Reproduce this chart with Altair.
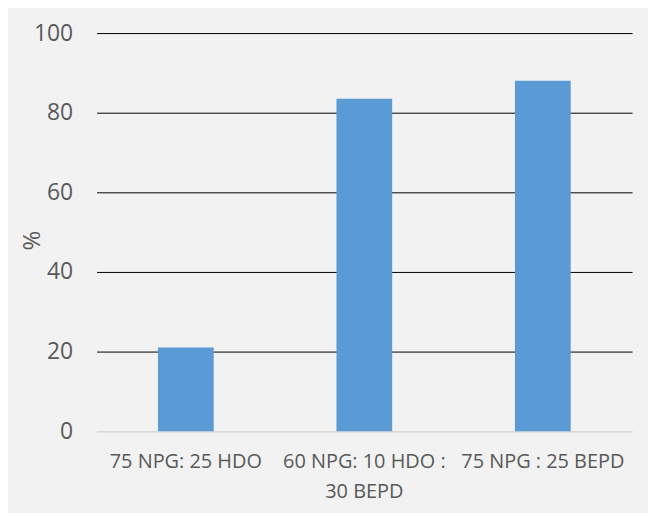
import altair as alt
import pandas as pd

categories = ["75 NPG: 25 HDO", "60 NPG: 10 HDO : 30 BEPD", "75 NPG : 25 BEPD"]
values = [21, 83.5, 88]

df = pd.DataFrame({"cat": categories, "val": values})

label_expr = ("datum.label == '60 NPG: 10 HDO : 30 BEPD' ? "
              "['60 NPG: 10 HDO :', '30 BEPD'] : datum.label")

chart = alt.Chart(df).mark_bar(size=56, color="#5b9bd5").encode(
    x=alt.X("cat:N", sort=categories, title=None,
            scale=alt.Scale(paddingInner=0, paddingOuter=0),
            axis=alt.Axis(labelAngle=0, labelExpr=label_expr, ticks=False,
                          domain=True, domainColor="#d9d9d9", domainWidth=1.5,
                          labelFont="Open Sans", labelFontSize=20,
                          labelColor="#595959", labelPadding=20,
                          labelLineHeight=31, labelBaseline="top")),
    y=alt.Y("val:Q", title="%",
            scale=alt.Scale(domain=[0, 100], nice=False),
            axis=alt.Axis(values=[0, 20, 40, 60, 80, 100], ticks=False, domain=False,
                          gridColor=alt.condition("datum.value == 0", alt.value("#d9d9d9"), alt.value("#000000")),
                          gridWidth=1,
                          labelFont="Open Sans", labelFontSize=23,
                          labelColor="#595959", labelPadding=24,
                          titleFont="Open Sans", titleFontSize=24,
                          titleFontWeight="normal", titleColor="#595959",
                          titleX=-64, titleY=208, titleAngle=-90,
                          titleAlign="center", titleBaseline="middle")),
).properties(
    width=538, height=400,
    background="#f2f2f2",
    autosize=alt.AutoSizeParams(type="none"),
    padding={"left": 89, "top": 24, "right": 16, "bottom": 81},
).configure_view(stroke=None)

chart.save("out.html", embed_options={"renderer": "svg", "actions": False})
